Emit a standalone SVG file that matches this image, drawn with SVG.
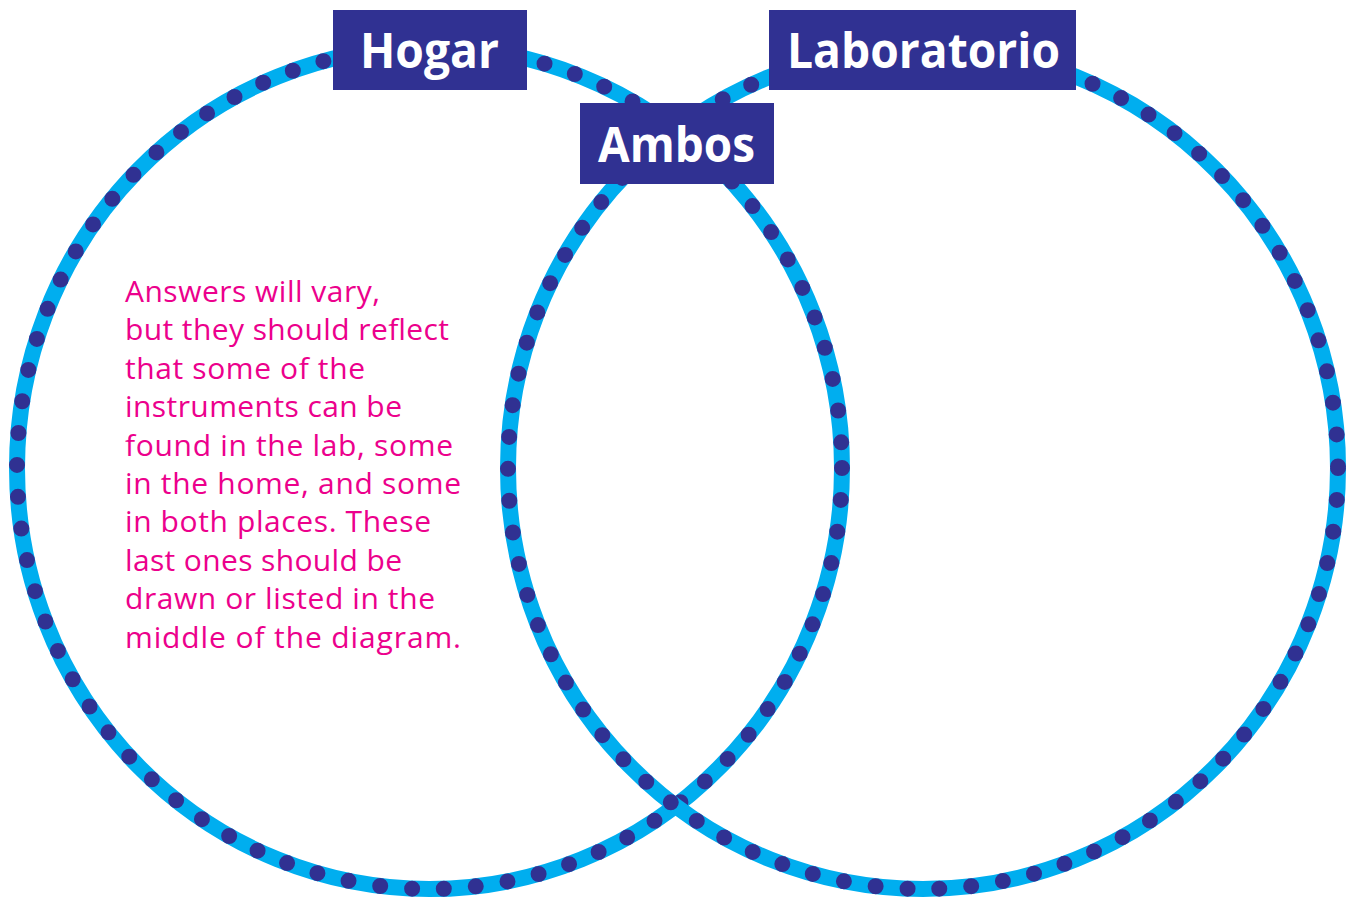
<svg xmlns="http://www.w3.org/2000/svg" width="1348" height="899" viewBox="0 0 1348 899">
<style>
.band{fill:none;stroke:#00AEEF;stroke-width:16}
.dots{fill:none;stroke:#303192;stroke-width:16;stroke-linecap:round;stroke-dasharray:0 32}
.box{fill:#303192}
.lbl{font-family:"Open Sans","Liberation Sans",sans-serif;font-weight:700;font-size:48px;fill:#fff}
.note{font-family:"Open Sans","Liberation Sans",sans-serif;font-size:30px;fill:#EC008C}
</style>
<rect width="1348" height="899" fill="#fff"/>
<g id="connectors">
<g id="circle-hogar">
<ellipse class="band" cx="429.5" cy="468" rx="412.5" ry="421"/>
<ellipse class="dots" cx="429.5" cy="468" rx="412.5" ry="421"/>
</g>
<g id="circle-laboratorio">
<ellipse class="band" cx="923" cy="468" rx="415" ry="421"/>
<ellipse class="dots" cx="923" cy="468" rx="415" ry="421"/>
</g>
</g>
<g id="hogar">
<rect class="box" x="333" y="10" width="194" height="80"/>
<text class="lbl" x="360" y="68" textLength="139" lengthAdjust="spacingAndGlyphs">Hogar</text>
</g>
<g id="laboratorio">
<rect class="box" x="769" y="10" width="307" height="80"/>
<text class="lbl" x="787" y="68" textLength="273" lengthAdjust="spacingAndGlyphs">Laboratorio</text>
</g>
<g id="ambos">
<rect class="box" x="580" y="103" width="194" height="81"/>
<text class="lbl" x="598" y="162" textLength="157" lengthAdjust="spacingAndGlyphs">Ambos</text>
</g>
<g id="note">
<text class="note" x="125" y="302" textLength="255">Answers will vary,</text>
<text class="note" x="125" y="340.4" textLength="324">but they should reflect</text>
<text class="note" x="125" y="378.8" textLength="240">that some of the</text>
<text class="note" x="125" y="417.2" textLength="277">instruments can be</text>
<text class="note" x="125" y="455.6" textLength="328">found in the lab, some</text>
<text class="note" x="125" y="494" textLength="336">in the home, and some</text>
<text class="note" x="125" y="532.4" textLength="306">in both places. These</text>
<text class="note" x="125" y="570.8" textLength="277">last ones should be</text>
<text class="note" x="125" y="609.2" textLength="310">drawn or listed in the</text>
<text class="note" x="125" y="647.6" textLength="336">middle of the diagram.</text>
</g>
</svg>
